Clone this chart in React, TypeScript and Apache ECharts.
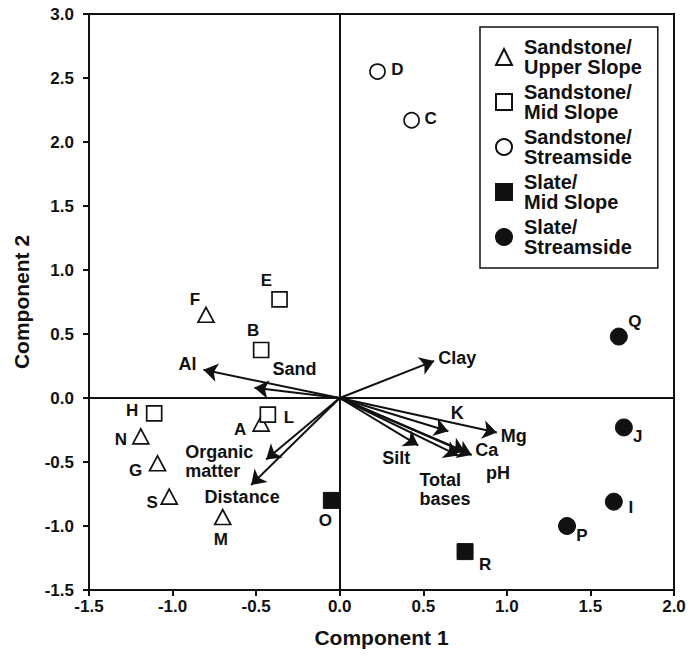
import React, { useEffect, useRef } from "react";
import * as echarts from "echarts";

// ---- Data ----
const upperSlopeNames = ["F", "A", "N", "G", "S", "M"];
const upperSlopeX = [-0.8, -0.47, -1.19, -1.09, -1.02, -0.7];
const upperSlopeY = [0.65, -0.2, -0.3, -0.51, -0.77, -0.93];

const midSlopeNames = ["E", "B", "H", "L"];
const midSlopeX = [-0.36, -0.47, -1.11, -0.43];
const midSlopeY = [0.77, 0.375, -0.12, -0.13];

const streamsideNames = ["D", "C"];
const streamsideX = [0.226, 0.43];
const streamsideY = [2.55, 2.17];

const slateMidNames = ["O", "R"];
const slateMidX = [-0.05, 0.75];
const slateMidY = [-0.8, -1.2];

const slateStreamNames = ["Q", "J", "I", "P"];
const slateStreamX = [1.67, 1.7, 1.64, 1.36];
const slateStreamY = [0.48, -0.23, -0.81, -1.0];

const vectorNames = ["Al", "Sand", "Organic\nmatter", "Distance", "Clay", "K", "Mg", "Ca", "pH", "Total\nbases", "Silt"];
const vectorX = [-0.815, -0.51, -0.44, -0.53, 0.565, 0.65, 0.94, 0.79, 0.75, 0.71, 0.47];
const vectorY = [0.22, 0.08, -0.48, -0.68, 0.29, -0.26, -0.27, -0.445, -0.42, -0.45, -0.37];

const xTicks = [-1.5, -1.0, -0.5, 0.0, 0.5, 1.0, 1.5, 2.0];
const yTicks = [-1.5, -1.0, -0.5, 0.0, 0.5, 1.0, 1.5, 2.0, 2.5, 3.0];

const groupNames = [
  "Sandstone/Upper Slope",
  "Sandstone/Mid Slope",
  "Sandstone/Streamside",
  "Slate/Mid Slope",
  "Slate/Streamside",
];

// ---- Layout (label offsets in px) ----
const pointLabelOffset: Record<string, [number, number]> = {
  F: [-11, -15], A: [-21, 6], N: [-20, 3], G: [-22, 7], S: [-17, 6], M: [-2, 22],
  E: [-13, -19], B: [-8, -20], H: [-22, -3], L: [21, 3],
  D: [20, -2], C: [19, -2],
  O: [-6, 20], R: [20, 13],
  Q: [16, -15], J: [14, 9], I: [17, 6], P: [15, 9],
};
const vectorLabelOffset: Record<string, { off: [number, number]; align?: string }> = {
  Al: { off: [-16, -6] },
  Sand: { off: [40, -19] },
  "Organic\nmatter": { off: [-81, 2], align: "left" },
  Distance: { off: [-9, 12] },
  Clay: { off: [23, -3] },
  K: { off: [9, -18] },
  Mg: { off: [17, 3] },
  Ca: { off: [15, -5] },
  pH: { off: [33, 21] },
  "Total\nbases": { off: [-39, 34], align: "left" },
  Silt: { off: [-22, 13] },
};

const FONT = '"Liberation Sans", Arial, Helvetica, sans-serif';
const INK = "#111";

function pts(names: string[], xs: number[], ys: number[]) {
  return names.map((n, i) => ({
    name: n,
    value: [xs[i], ys[i]],
    label: { offset: pointLabelOffset[n] || [0, 0] },
  }));
}

export default function App() {
  const ref = useRef<HTMLDivElement>(null);
  useEffect(() => {
    if (!ref.current) return;
    const chart = echarts.init(ref.current, undefined, { renderer: "svg" });

    const pointLabel = {
      show: true,
      position: "inside",
      formatter: "{b}",
      fontFamily: FONT,
      fontWeight: "bold",
      fontSize: 17,
      color: INK,
      opacity: 1,
    };
    const hollow = { color: "#fff", borderColor: INK, borderWidth: 1.7, opacity: 1 };
    const filled = { color: INK, borderColor: INK, borderWidth: 1, opacity: 1 };

    const option: any = {
      animation: false,
      backgroundColor: "#fff",
      grid: {
        left: 89,
        right: 15,
        top: 14,
        bottom: 73,
        show: true,
        borderColor: INK,
        borderWidth: 2,
        backgroundColor: "transparent",
      },
      xAxis: {
        type: "value",
        min: xTicks[0],
        max: xTicks[xTicks.length - 1],
        interval: 0.5,
        name: "Component 1",
        nameLocation: "middle",
        nameGap: 37,
        nameTextStyle: { fontFamily: FONT, fontWeight: "bold", fontSize: 21, color: INK },
        axisLine: { show: true, onZero: false, lineStyle: { color: INK, width: 2 } },
        axisTick: { show: true, length: 6, lineStyle: { color: INK, width: 2 } },
        axisLabel: {
          margin: 8,
          fontFamily: FONT,
          fontWeight: "bold",
          fontSize: 17,
          color: INK,
          formatter: (v: number) => v.toFixed(1),
        },
        splitLine: { show: false },
      },
      yAxis: {
        type: "value",
        min: yTicks[0],
        max: yTicks[yTicks.length - 1],
        interval: 0.5,
        name: "Component 2",
        nameLocation: "middle",
        nameGap: 57,
        nameTextStyle: { fontFamily: FONT, fontWeight: "bold", fontSize: 21, color: INK },
        axisLine: { show: true, onZero: false, lineStyle: { color: INK, width: 2 } },
        axisTick: { show: true, length: 6, lineStyle: { color: INK, width: 2 } },
        axisLabel: {
          margin: 15,
          fontFamily: FONT,
          fontWeight: "bold",
          fontSize: 17,
          color: INK,
          formatter: (v: number) => v.toFixed(1),
        },
        splitLine: { show: false },
      },
      legend: {
        orient: "vertical",
        left: 480,
        top: 27,
        itemWidth: 16,
        itemHeight: 16,
        itemGap: 5,
        padding: [10, 16, 11, 15],
        borderColor: INK,
        borderWidth: 1.5,
        backgroundColor: "#fff",
        data: groupNames,
        formatter: (n: string) => n.replace("/", "/\n"),
        textStyle: {
          fontFamily: FONT,
          fontWeight: "bold",
          fontSize: 20,
          lineHeight: 20,
          color: INK,
          padding: [0, 0, 0, 7],
        },
      },
      series: [
        {
          type: "lines",
          coordinateSystem: "cartesian2d",
          symbol: ["none", "arrow"],
          symbolSize: 14,
          silent: true,
          z: 3,
          lineStyle: { color: INK, width: 2, opacity: 1 },
          data: vectorNames.map((n, i) => ({ coords: [[0, 0], [vectorX[i], vectorY[i]]] })),
        },
        {
          type: "scatter",
          name: "vectorLabels",
          symbolSize: 0,
          silent: true,
          z: 4,
          itemStyle: { opacity: 1 },
          data: vectorNames.map((n, i) => ({
            name: n,
            value: [vectorX[i], vectorY[i]],
            label: {
              offset: vectorLabelOffset[n].off,
              align: vectorLabelOffset[n].align || "center",
            },
          })),
          label: {
            show: true,
            position: "inside",
            formatter: "{b}",
            fontFamily: FONT,
            fontWeight: "bold",
            fontSize: 18,
            lineHeight: 19,
            color: INK,
            opacity: 1,
          },
          markLine: {
            silent: true,
            symbol: ["none", "none"],
            label: { show: false },
            lineStyle: { color: INK, width: 2, type: "solid", opacity: 1 },
            data: [{ xAxis: 0 }, { yAxis: 0 }],
          },
        },
        {
          type: "scatter",
          name: groupNames[0],
          symbol: "triangle",
          symbolSize: [16, 15],
          itemStyle: hollow,
          label: pointLabel,
          data: pts(upperSlopeNames, upperSlopeX, upperSlopeY),
        },
        {
          type: "scatter",
          name: groupNames[1],
          symbol: "rect",
          symbolSize: 15,
          itemStyle: hollow,
          label: pointLabel,
          data: pts(midSlopeNames, midSlopeX, midSlopeY),
        },
        {
          type: "scatter",
          name: groupNames[2],
          symbol: "circle",
          symbolSize: 15,
          itemStyle: hollow,
          label: pointLabel,
          data: pts(streamsideNames, streamsideX, streamsideY),
        },
        {
          type: "scatter",
          name: groupNames[3],
          symbol: "rect",
          symbolSize: 16,
          itemStyle: filled,
          label: pointLabel,
          data: pts(slateMidNames, slateMidX, slateMidY),
        },
        {
          type: "scatter",
          name: groupNames[4],
          symbol: "circle",
          symbolSize: 17,
          itemStyle: filled,
          label: pointLabel,
          data: pts(slateStreamNames, slateStreamX, slateStreamY),
        },
      ],
    };
    chart.setOption(option);
    return () => chart.dispose();
  }, []);
  return (
    <div
      ref={ref}
      style={{ position: "fixed", left: 0, top: 0, width: 689, height: 663, background: "#fff" }}
    />
  );
}
